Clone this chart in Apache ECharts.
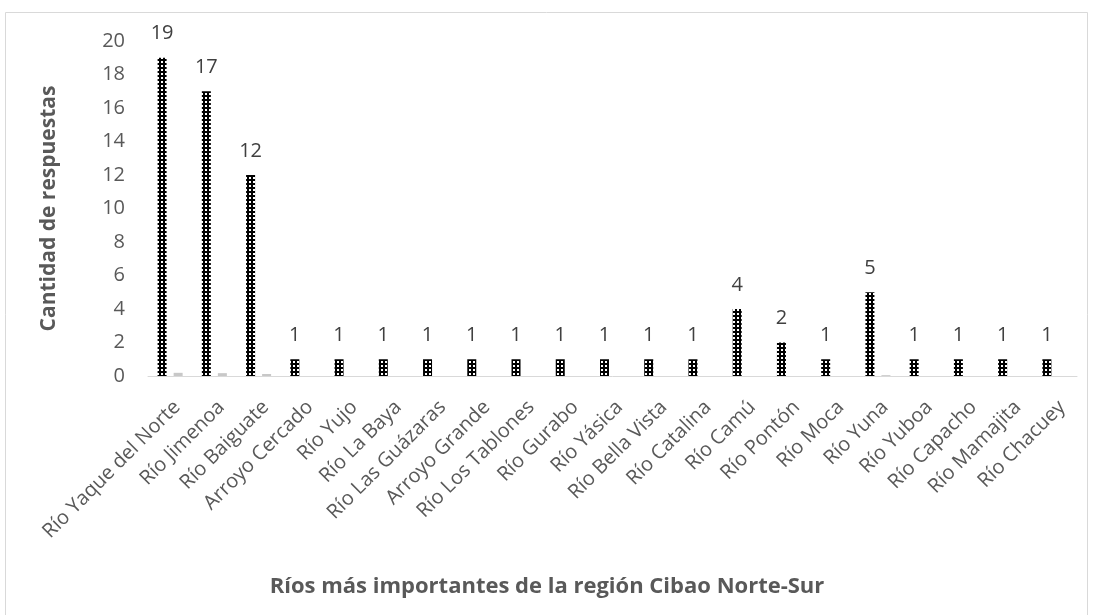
<!DOCTYPE html>
<html>
<head>
<meta charset="utf-8">
<script src="https://cdn.jsdelivr.net/npm/echarts@6/dist/echarts.min.js"></script>
<style>
  html, body { margin: 0; padding: 0; background: #fff; }
  #chart { width: 1094px; height: 615px; }
</style>
</head>
<body>
<div id="chart"></div>
<script>
var rivers = ['Río Yaque del Norte', 'Río Jimenoa', 'Río Baiguate', 'Arroyo Cercado', 'Río Yujo',
  'Río La Baya', 'Río Las Guázaras', 'Arroyo Grande', 'Río Los Tablones', 'Río Gurabo',
  'Río Yásica', 'Río Bella Vista', 'Río Catalina', 'Río Camú', 'Río Pontón', 'Río Moca',
  'Río Yuna', 'Río Yuboa', 'Río Capacho', 'Río Mamajita', 'Río Chacuey'];
var respuestas = [19, 17, 12, 1, 1, 1, 1, 1, 1, 1, 1, 1, 1, 4, 2, 1, 5, 1, 1, 1, 1];
var porcentaje = [0.19, 0.17, 0.12, 0, 0, 0, 0, 0, 0, 0, 0, 0, 0, 0, 0, 0, 0.05, 0, 0, 0, 0];

// black bar with white holes, like the Excel pattern fill
function makePattern() {
  var c = document.createElement('canvas');
  c.width = 4; c.height = 4;
  var ctx = c.getContext('2d');
  ctx.fillStyle = '#000';
  ctx.fillRect(0, 0, 4, 4);
  ctx.fillStyle = '#fff';
  ctx.fillRect(1, 1, 2, 2);
  return c;
}

var chart = echarts.init(document.getElementById('chart'), null, { renderer: 'canvas' });
var font = '"Open Sans", sans-serif';

chart.setOption({
  backgroundColor: '#ffffff',
  animation: false,
  title: {
    text: 'Ríos más importantes de la región Cibao Norte-Sur',
    left: 'center',
    top: 571,
    textStyle: { fontFamily: font, fontSize: 22, fontWeight: 'bold', color: '#595959' }
  },
  graphic: [{
    type: 'rect',
    shape: { x: 5.5, y: 12.5, width: 1082, height: 620 },
    style: { fill: 'none', stroke: '#d9d9d9', lineWidth: 1 }
  }],
  grid: { left: 148, right: 17, top: 41, bottom: 239 },
  xAxis: {
    type: 'category',
    data: rivers,
    axisLine: { lineStyle: { color: '#d9d9d9', width: 1 } },
    axisTick: { show: false },
    axisLabel: {
      rotate: 45, interval: 0, margin: 21,
      align: 'right', verticalAlign: 'top',
      fontFamily: font, fontSize: 20, color: '#595959'
    }
  },
  yAxis: {
    type: 'value',
    min: 0, max: 20, interval: 2,
    name: 'Cantidad de respuestas',
    nameLocation: 'middle',
    nameGap: 88,
    nameTextStyle: { fontFamily: font, fontSize: 21, fontWeight: 'bold', color: '#595959' },
    axisLine: { show: false },
    axisTick: { show: false },
    splitLine: { show: false },
    axisLabel: { margin: 23, fontFamily: font, fontSize: 20, color: '#595959' }
  },
  series: [{
    type: 'bar',
    data: respuestas,
    barWidth: 9,
    barGap: '78%',
    itemStyle: { color: { image: makePattern(), repeat: 'repeat' } },
    label: {
      show: true, position: 'top', distance: 14,
      fontFamily: font, fontSize: 20, color: '#404040'
    }
  }, {
    type: 'bar',
    data: porcentaje,
    barWidth: 9,
    itemStyle: { color: '#c8c8c8' }
  }]
});
</script>
</body>
</html>
